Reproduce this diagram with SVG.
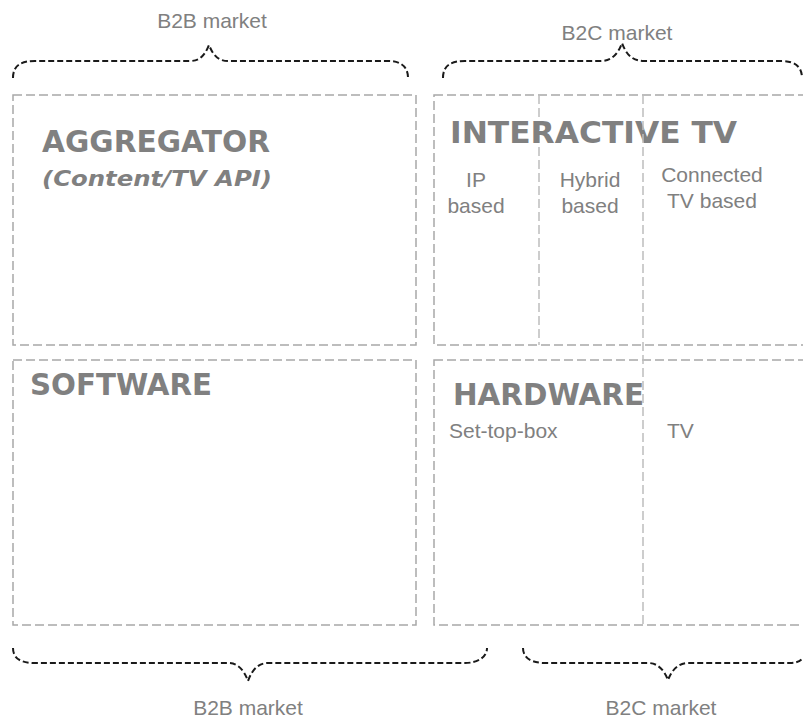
<svg xmlns="http://www.w3.org/2000/svg" width="803" height="718" viewBox="0 0 803 718">
<style>
.box{fill:none;stroke:#a8a8a8;stroke-width:1.5;stroke-dasharray:9,4}
.div{fill:none;stroke:#bdbdbd;stroke-width:1.5;stroke-dasharray:9,4}
.brace{fill:none;stroke:#1a1a1a;stroke-width:2;stroke-dasharray:6,3}
.title{font-family:"DejaVu Sans",Verdana,sans-serif;font-weight:bold;fill:#808080}
.sub{font-family:"DejaVu Sans",Verdana,sans-serif;font-weight:bold;font-style:italic;fill:#808080}
.lbl{font-family:"Liberation Sans",Arial,sans-serif;font-size:21px;fill:#808080}
</style>
<rect width="803" height="718" fill="#ffffff"/>
<g id="aggregator">
<rect class="box" x="13" y="95" width="403" height="250"/>
<text class="title" x="42" y="152" font-size="30" textLength="228" lengthAdjust="spacingAndGlyphs">AGGREGATOR</text>
<text class="sub" x="42" y="186" font-size="22" textLength="230" lengthAdjust="spacingAndGlyphs">(Content/TV API)</text>
</g>
<g id="interactive-tv">
<rect class="box" x="434" y="95" width="375" height="250"/>
<line class="div" x1="539" y1="95" x2="539" y2="345"/>
<text class="title" x="450" y="143" font-size="30" textLength="287" lengthAdjust="spacingAndGlyphs">INTERACTIVE TV</text>
<text class="lbl" text-anchor="middle" x="476" y="187">IP</text>
<text class="lbl" text-anchor="middle" x="476" y="213">based</text>
<text class="lbl" text-anchor="middle" x="590" y="187">Hybrid</text>
<text class="lbl" text-anchor="middle" x="590" y="213">based</text>
<text class="lbl" text-anchor="middle" x="712" y="182">Connected</text>
<text class="lbl" text-anchor="middle" x="712" y="208">TV based</text>
</g>
<g id="software">
<rect class="box" x="13" y="360" width="403" height="265"/>
<text class="title" x="30" y="395" font-size="30" textLength="182" lengthAdjust="spacingAndGlyphs">SOFTWARE</text>
</g>
<g id="hardware">
<rect class="box" x="434" y="360" width="375" height="265"/>
<text class="title" x="453" y="405" font-size="30" textLength="191" lengthAdjust="spacingAndGlyphs">HARDWARE</text>
<text class="lbl" x="449" y="438">Set-top-box</text>
<text class="lbl" x="667" y="438">TV</text>
</g>
<line id="divider" class="div" x1="643" y1="95" x2="643" y2="625"/>
<g id="connectors">
<path class="brace" d="M13,78 C13,66 20,61 35,61 L190,61 C200,61 205,55 209,45 C213,55 218,61 228,61 L388,61 C400,61 408,66 408,78"/>
<path class="brace" d="M443,78 C443,66 450,61 465,61 L600,61 C612,61 618,54 622,43 C626,54 632,61 644,61 L782,61 C795,61 802,67 802,78"/>
<path class="brace" d="M13,648 C13,658 20,663 35,663 L228,663 C238,663 244,670 248,681 C252,670 258,663 268,663 L465,663 C478,663 487,657 487,648"/>
<path class="brace" d="M523,648 C523,657 530,663 545,663 L648,663 C658,663 664,670 668,680 C672,670 678,663 688,663 L790,663 C798,663 802,660 803,657"/>
</g>
<g id="labels">
<text class="lbl" text-anchor="middle" x="212" y="28">B2B market</text>
<text class="lbl" text-anchor="middle" x="617" y="40">B2C market</text>
<text class="lbl" text-anchor="middle" x="248" y="715">B2B market</text>
<text class="lbl" text-anchor="middle" x="661" y="715">B2C market</text>
</g>
</svg>
